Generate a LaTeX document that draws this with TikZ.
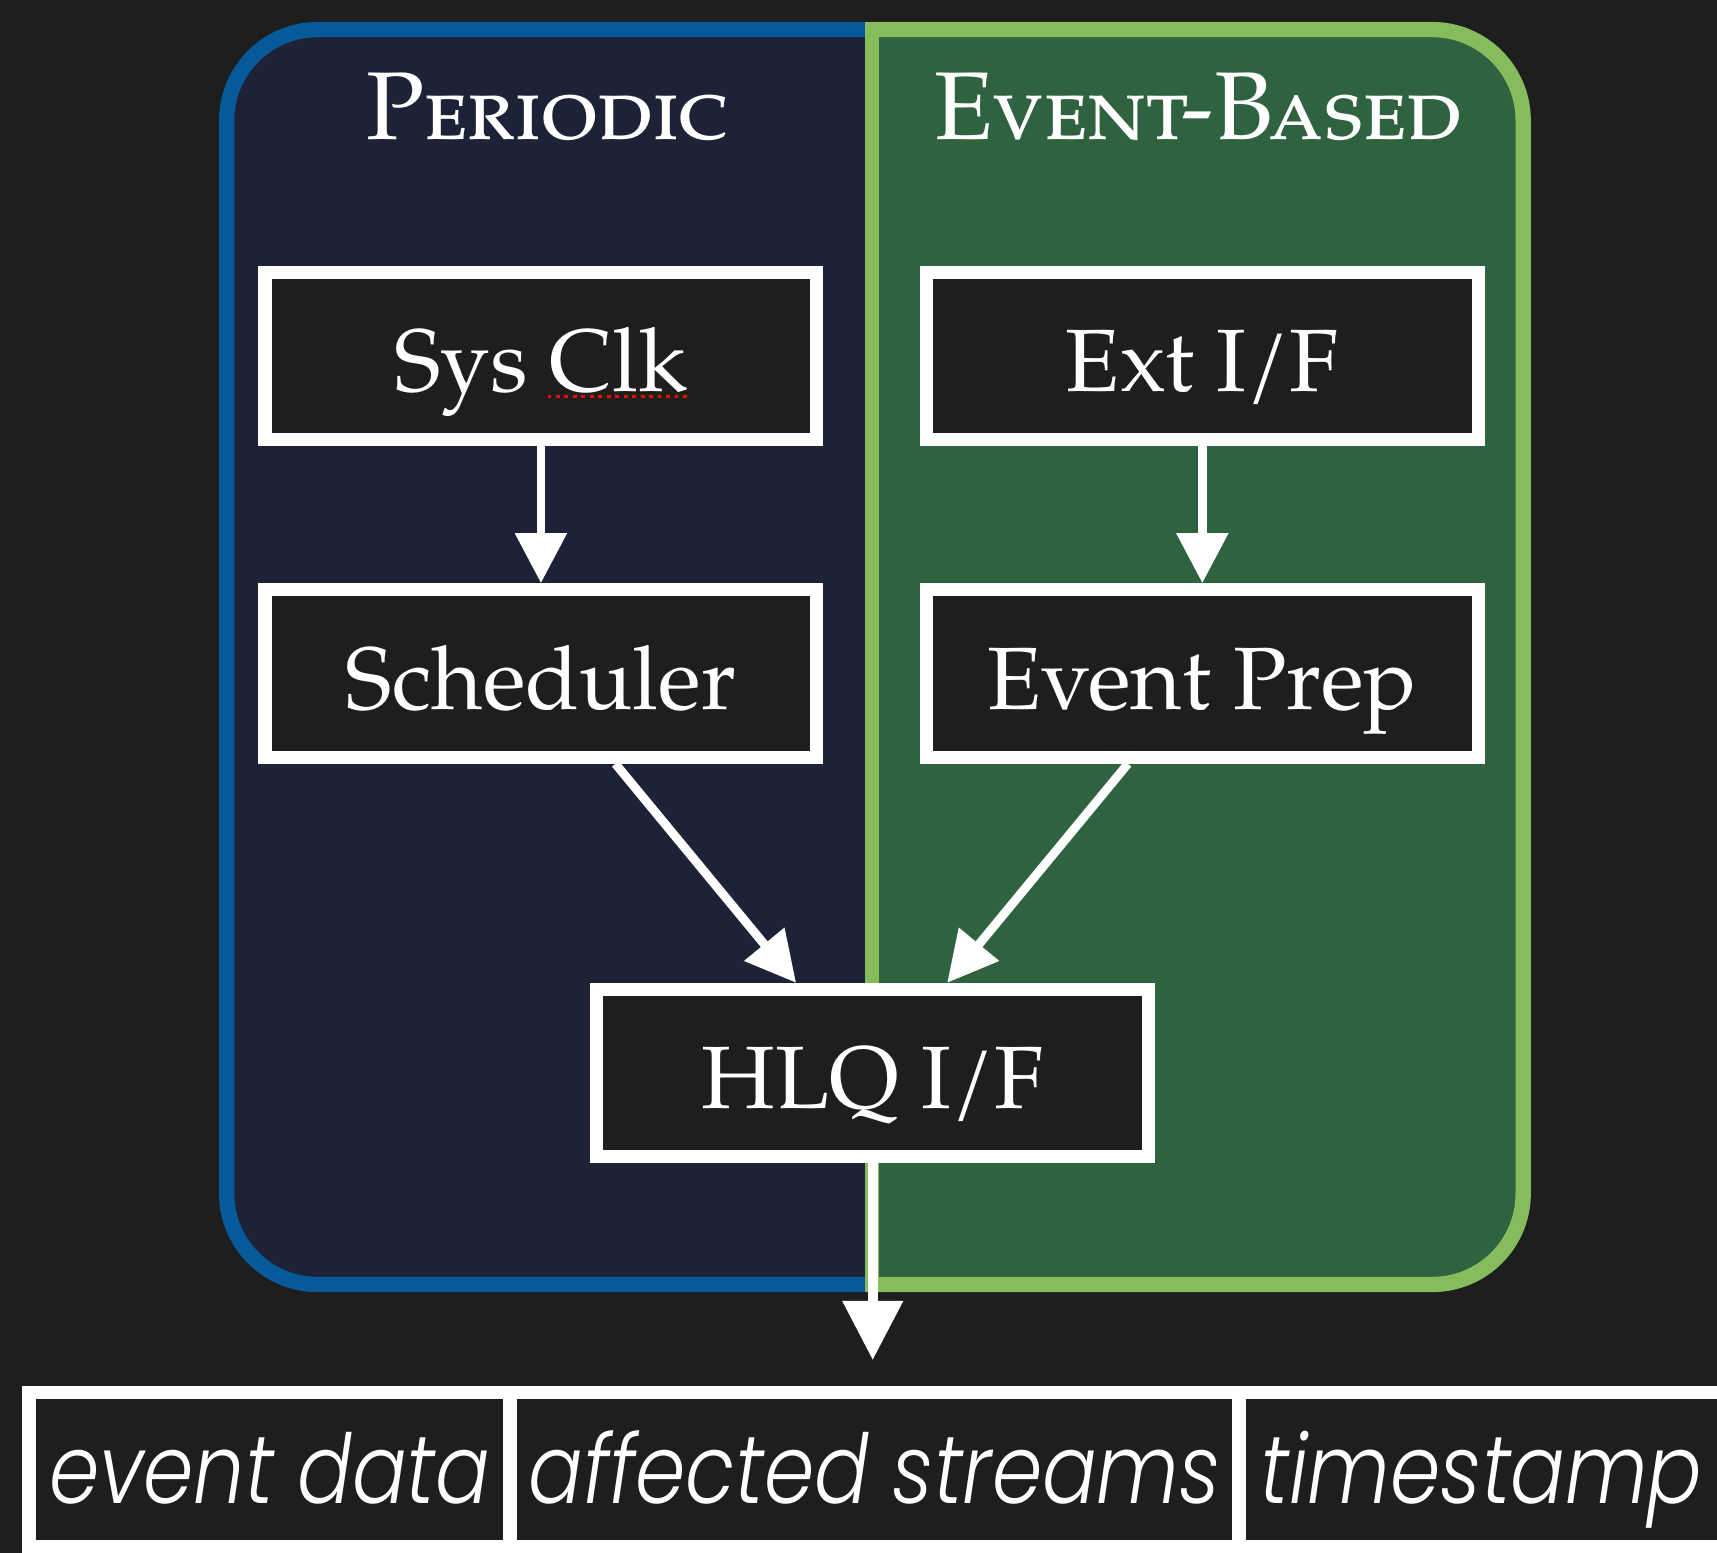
\documentclass[tikz,border=0pt]{standalone}
\usepackage{fontspec}
\usepackage{graphicx}
\setmainfont{TeX Gyre Pagella}
\newfontfamily\cellfont{Poppins Light Italic}
\usetikzlibrary{arrows.meta}

\definecolor{bg}{HTML}{1E1E1E}
\definecolor{navyfill}{HTML}{1D2237}
\definecolor{blueline}{HTML}{065A9A}
\definecolor{greenfill}{HTML}{2F623F}
\definecolor{greenline}{HTML}{87BC5C}

\tikzset{
  panelL/.style={draw=blueline, fill=navyfill, line width=3.98pt, rounded corners=8.3mm},
  panelR/.style={draw=greenline, fill=greenfill, line width=3.98pt, rounded corners=8.3mm},
  title/.style={text=white, anchor=base, inner sep=0pt, font=\fontsize{25}{25}\selectfont},
  stage/.style={draw=white, fill=bg, text=white, line width=3.41pt,
    minimum width=50.4mm, minimum height=15.3mm, inner sep=0pt,
    text height=18.6pt, text depth=0pt, font=\fontsize{23}{23}\selectfont},
  cell/.style={draw=white, fill=bg, text=white, line width=3.55pt,
    minimum height=14.15mm, inner sep=0pt,
    text height=17.5pt, text depth=0pt, font=\cellfont\fontsize{25}{25}\selectfont},
  flow/.style={draw=white, line width=2.3pt, -{Triangle[width=13pt,length=13pt]}},
  flowbig/.style={draw=white, line width=2.6pt, -{Triangle[width=15.2pt,length=15.4pt]}}
}

\begin{document}
\begin{tikzpicture}[x=0.1mm, y=-0.1mm]
\useasboundingbox (0,0) rectangle (1568,1418);
\clip (0,0) rectangle (1568,1418);
\fill[bg] (0,0) rectangle (1568,1418);

% two halves of one rounded panel
\begin{scope}
  \clip (0,0) rectangle (796.5,1418);
  \draw[panelL] (207,27) rectangle (1391,1173);
\end{scope}
\begin{scope}
  \clip (796.5,0) rectangle (1568,1418);
  \draw[panelR] (207,27) rectangle (1391,1173);
\end{scope}
\draw[greenline, line width=3.7pt] (796.5,20) -- (796.5,1180);

% panel titles
\node[title] (tper) at (500,127) {\textsc{Periodic}};
\node[title] (tevt) at (1094,127) {\textsc{Event-Based}};

% stages
\node[stage] (sysclk) at (494,325) {Sys Clk};
\node[stage] (extif)  at (1098,325) {Ext I/F};
\node[stage] (sched)  at (494,615) {Scheduler};
\node[stage] (evprep) at (1098,615) {Event Prep};
\node[stage] (hlq)    at (797,980) {HLQ I/F};

% spell-check underline under "Clk"
\draw[red, line width=0.9pt, dash pattern=on 1pt off 1.2pt] (500,362) -- (627,362);

% output record
\node[cell, minimum width=43.95mm] (c1) at (246.25,1342.25) {\scalebox{.84}[1]{event data}};
\node[cell, minimum width=66.55mm] (c2) at (798.75,1342.25) {\scalebox{.84}[1]{affected streams}};
\node[cell, minimum width=44.3mm]  (c3) at (1353,1342.25) {\scalebox{.84}[1]{timestamp}};

% connectors
\draw[flow] (sysclk) -- (sched);
\draw[flow] (extif) -- (evprep);
\draw[flow] ([xshift=6.8mm]sched.south) -- ([xshift=-7mm]hlq.north);
\draw[flow] ([xshift=-6.8mm]evprep.south) -- ([xshift=6.8mm]hlq.north);
\coordinate (tip) at (797,1242);
\draw[flowbig] (hlq.south) -- (tip);
\end{tikzpicture}
\end{document}
